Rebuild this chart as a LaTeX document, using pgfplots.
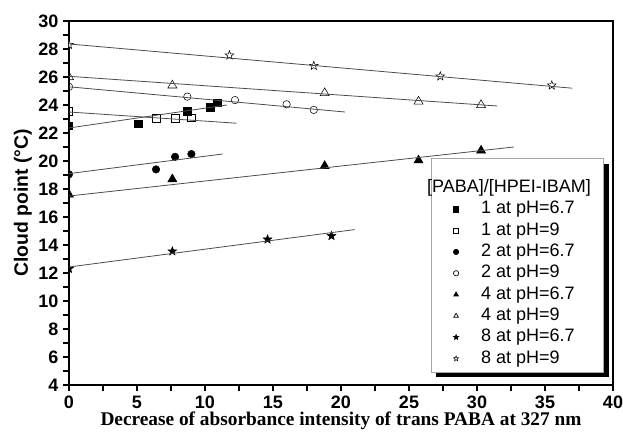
\documentclass[border=0pt]{standalone}
\usepackage{fontspec}
\setmainfont{Liberation Sans}
\newfontfamily\timesfont{Liberation Serif}
\usepackage{pgfplots}
\pgfplotsset{compat=1.18}
\usetikzlibrary{shadows,plotmarks}

% five-pointed star, filled with the fill colour
\pgfdeclareplotmark{fivestar}{%
  \pgfpathmoveto{\pgfpointpolar{90}{\pgfplotmarksize}}%
  \pgfpathlineto{\pgfpointpolar{126}{0.42\pgfplotmarksize}}%
  \pgfpathlineto{\pgfpointpolar{162}{\pgfplotmarksize}}%
  \pgfpathlineto{\pgfpointpolar{198}{0.42\pgfplotmarksize}}%
  \pgfpathlineto{\pgfpointpolar{234}{\pgfplotmarksize}}%
  \pgfpathlineto{\pgfpointpolar{270}{0.42\pgfplotmarksize}}%
  \pgfpathlineto{\pgfpointpolar{306}{\pgfplotmarksize}}%
  \pgfpathlineto{\pgfpointpolar{342}{0.42\pgfplotmarksize}}%
  \pgfpathlineto{\pgfpointpolar{18}{\pgfplotmarksize}}%
  \pgfpathlineto{\pgfpointpolar{54}{0.42\pgfplotmarksize}}%
  \pgfpathclose\pgfusepathqfillstroke}

\begin{document}
\begin{tikzpicture}
\useasboundingbox (-51.75pt,-36pt) rectangle (415.5pt,288.75pt);
\begin{axis}[scale only axis,width=408pt,height=273pt,at={(0pt,0pt)},anchor=south west,
xmin=0,xmax=40,ymin=4,ymax=30,
xtick={0,5,...,40},ytick={4,6,...,30},minor x tick num=1,minor y tick num=1,
tick align=outside,xtick pos=bottom,ytick pos=left,
major tick length=4.5pt,minor tick length=4.5pt,
axis line style={line width=1pt},tick style={line width=0.8pt,black},
/pgf/number format/assume math mode=true,
tick label style={font=\bfseries\fontsize{13.5}{14}\selectfont},
xlabel={\timesfont\bfseries Decrease of absorbance intensity of trans PABA at 327 nm},
ylabel={\bfseries Cloud point (°C)},
label style={font=\fontsize{14.5}{15}\selectfont},
xlabel style={yshift=4pt},ylabel style={yshift=-2pt},
clip marker paths=true,
legend cell align=left,
legend image code/.code={\path (0pt,0pt) (32pt,0pt); \draw[mark size=2pt] plot[only marks] coordinates {(15.5pt,0pt)};},
legend style={at={(0.665,0.035)},anchor=south west,draw=gray!70,line width=0.5pt,fill=white,
  font=\fontsize{13.5}{14}\selectfont,row sep=0pt,
  nodes={text height=9.8pt,text depth=3pt,inner ysep=1.6pt},
  drop shadow={fill=black,shadow xshift=4pt,shadow yshift=-4pt,opacity=1}},
]
\addlegendimage{empty legend}\addlegendentry[text height=22pt]{\hspace*{-40.5pt}[PABA]/[HPEI-IBAM]\hspace*{4.5pt}}
% data points
\addplot[only marks,mark=square*,mark size=2.8pt,black] coordinates {(0,22.5) (5.1,22.65) (8.7,23.55) (10.4,23.85) (10.9,24.15)};
\addlegendentry{1 at pH=6.7}
\addplot[only marks,mark=square,mark size=2.8pt,black,mark options={fill=white}] coordinates {(0,23.55) (6.4,23.05) (7.8,23.05) (9.0,23.1)};
\addlegendentry{1 at pH=9}
\addplot[only marks,mark=*,mark size=2.8pt,black] coordinates {(0,19.05) (6.4,19.4) (7.8,20.3) (9.0,20.5)};
\addlegendentry{2 at pH=6.7}
\addplot[only marks,mark=o,mark size=2.8pt,black] coordinates {(0,25.3) (8.7,24.6) (12.2,24.35) (16.0,24.05) (18.0,23.65)};
\addlegendentry{2 at pH=9}
\addplot[only marks,mark=triangle*,mark size=3.9pt,black] coordinates {(0,17.6) (7.6,18.7) (18.8,19.65) (25.7,20.05) (30.3,20.75)};
\addlegendentry{4 at pH=6.7}
\addplot[only marks,mark=triangle,mark size=3.9pt,black] coordinates {(0,26.0) (7.6,25.4) (18.8,24.85) (25.7,24.25) (30.3,24.0)};
\addlegendentry{4 at pH=9}
\addplot[only marks,mark=fivestar,mark size=3.4pt,black,mark options={fill=black}] coordinates {(0,12.3) (7.6,13.55) (14.6,14.4) (19.3,14.65)};
\addlegendentry{8 at pH=6.7}
\addplot[only marks,mark=fivestar,mark size=3.4pt,black,mark options={fill=white,line width=0.4pt}] coordinates {(0,28.3) (11.8,27.55) (18.0,26.8) (27.3,26.05) (35.5,25.4)};
\addlegendentry{8 at pH=9}
% fitted lines
\pgfplotsset{every axis plot post/.append style={forget plot}}
\addplot[gray!60!black,line width=0.6pt] coordinates {(0,22.36) (11.6,24.0)};
\addplot[gray!60!black,line width=0.6pt] coordinates {(0,23.5) (12.3,22.7)};
\addplot[gray!60!black,line width=0.6pt] coordinates {(0,19.1) (11.3,20.5)};
\addplot[gray!60!black,line width=0.6pt] coordinates {(0,25.3) (20.3,23.5)};
\addplot[gray!60!black,line width=0.6pt] coordinates {(0,17.5) (32.7,21.0)};
\addplot[gray!60!black,line width=0.6pt] coordinates {(0,26.05) (31.5,23.93)};
\addplot[gray!60!black,line width=0.6pt] coordinates {(0,12.43) (21.0,15.1)};
\addplot[gray!60!black,line width=0.6pt] coordinates {(0,28.36) (37.0,25.2)};
\end{axis}
\end{tikzpicture}
\end{document}
